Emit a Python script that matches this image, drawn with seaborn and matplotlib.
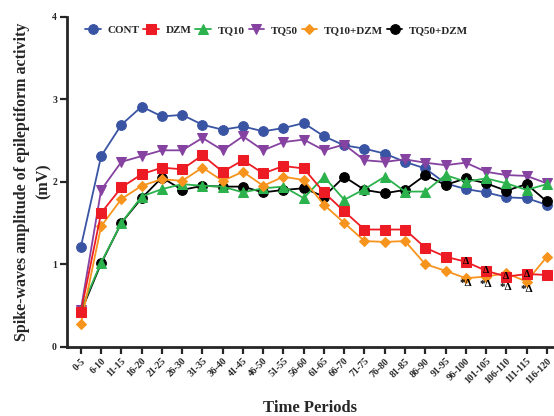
import matplotlib
matplotlib.use("Agg")
import matplotlib.pyplot as plt
import seaborn as sns

# --- data ---
periods = ['0-5', '6-10', '11-15', '16-20', '21-25', '26-30', '31-35', '36-40',
           '41-45', '46-50', '51-55', '56-60', '61-65', '66-70', '71-75', '76-80',
           '81-85', '86-90', '91-95', '96-100', '101-105', '106-110', '111-115', '116-120']

cont = [1.21, 2.31, 2.69, 2.91, 2.79, 2.81, 2.69, 2.63, 2.67, 2.61, 2.65, 2.71,
        2.55, 2.44, 2.40, 2.34, 2.24, 2.16, 1.98, 1.91, 1.87, 1.81, 1.80, 1.72]
dzm = [0.42, 1.62, 1.93, 2.09, 2.17, 2.15, 2.32, 2.12, 2.26, 2.10, 2.19, 2.16,
       1.87, 1.64, 1.42, 1.42, 1.42, 1.20, 1.09, 1.03, 0.92, 0.85, 0.88, 0.87]
tq10 = [0.45, 1.02, 1.50, 1.82, 1.91, 1.97, 1.95, 1.94, 1.87, 1.92, 1.94, 1.80,
        2.06, 1.78, 1.91, 2.06, 1.88, 1.88, 2.08, 2.00, 2.04, 1.98, 1.90, 1.97]
tq50 = [0.45, 1.90, 2.24, 2.31, 2.38, 2.38, 2.53, 2.38, 2.55, 2.38, 2.48, 2.51,
        2.38, 2.45, 2.26, 2.24, 2.27, 2.23, 2.20, 2.23, 2.12, 2.08, 2.07, 1.98]
tq10_dzm = [0.28, 1.46, 1.79, 1.95, 2.03, 2.01, 2.17, 2.01, 2.12, 1.95, 2.06, 2.02,
            1.72, 1.50, 1.28, 1.27, 1.28, 1.00, 0.92, 0.83, 0.85, 0.89, 0.79, 1.09]
tq50_dzm = [0.42, 1.01, 1.50, 1.80, 2.05, 1.90, 1.95, 1.94, 1.94, 1.87, 1.90, 1.92,
            1.82, 2.06, 1.90, 1.86, 1.90, 2.08, 1.96, 2.04, 1.98, 1.89, 1.97, 1.76]

# periods carrying significance marks and height of the "*Δ" labels
sig_periods = ['96-100', '101-105', '106-110', '111-115']
sig_label_y = [0.76, 0.75, 0.72, 0.69]

series = [
    ('CONT', cont, '#3a54a4', 'o', 7),
    ('DZM', dzm, '#ed1c24', 's', 7),
    ('TQ10', tq10, '#2bb24c', '^', 7.5),
    ('TQ50', tq50, '#8542a0', 'v', 7.5),
    ('TQ10+DZM', tq10_dzm, '#f7941d', 'D', 5),
    ('TQ50+DZM', tq50_dzm, '#000000', 'o', 7),
]
draw_order = ['CONT', 'TQ50', 'TQ50+DZM', 'TQ10', 'TQ10+DZM', 'DZM']

sns.set_style('ticks')
plt.rcParams['font.family'] = ['Liberation Serif', 'DejaVu Serif']
plt.rcParams['font.weight'] = 'bold'

fig = plt.figure(figsize=(5.54, 4.16), dpi=100)
ax = fig.add_axes([0.1204, 0.1666, 0.8776, 0.7934])

lookup = {s[0]: s for s in series}
for name in draw_order:
    _, vals, color, marker, ms = lookup[name]
    sns.lineplot(x=periods, y=vals, color=color, marker=marker, markersize=ms,
                 markeredgecolor=color, linewidth=1.3, label=name, ax=ax,
                 zorder=3)

# significance annotations
for p, ly in zip(sig_periods, sig_label_y):
    i = periods.index(p)
    ax.text(i, dzm[i], 'Δ', ha='center', va='center', fontsize=7,
            color='black', zorder=5)
    ax.text(i, ly, '*Δ', ha='center', va='center', fontsize=8,
            color='black', zorder=5)

ax.set_ylim(0, 4)
ax.set_yticks([0, 1, 2, 3, 4])
ax.set_xlim(-0.7, 23.3)
ax.set_xticks(range(len(periods)))
ax.set_xticklabels(periods, rotation=45, ha='right', rotation_mode='anchor',
                   fontsize=7, fontweight='bold')
for lab in ax.get_yticklabels():
    lab.set_fontsize(7)
    lab.set_fontweight('bold')

ax.spines['top'].set_visible(False)
ax.spines['right'].set_visible(False)
ax.spines['left'].set_linewidth(2)
ax.spines['bottom'].set_linewidth(2)
ax.tick_params(axis='both', direction='out', length=5, width=1.6, pad=2)

ax.set_ylabel('Spike-waves amplitude of epileptiform activity\n(mV)',
              fontsize=11.5, fontweight='bold', linespacing=1.5)
ax.yaxis.set_label_coords(-0.03, 0.5)
ax.set_xlabel('Time Periods', fontsize=12, fontweight='bold',
              verticalalignment='center')
ax.xaxis.set_label_coords(0.5, -0.186)

handles, labels = ax.get_legend_handles_labels()
order = [labels.index(s[0]) for s in series]
ax.legend([handles[k] for k in order], [labels[k] for k in order],
          loc='upper left', bbox_to_anchor=(0.02, 1.0), ncol=6, frameon=False,
          handlelength=1.4, handletextpad=0.6, columnspacing=0.35,
          borderaxespad=0.4, prop={'weight': 'bold', 'size': 8})

fig.savefig('out.png', dpi=100)
